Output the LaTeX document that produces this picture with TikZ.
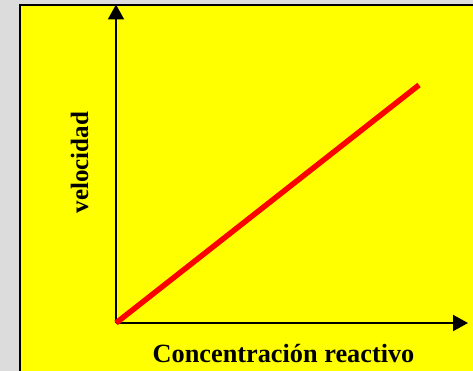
\documentclass[tikz,border=0pt]{standalone}
\usepackage{fontspec}
\setmainfont{Liberation Serif}
\usetikzlibrary{arrows.meta}
\definecolor{bggrey}{HTML}{DCDCDC}
\definecolor{panel}{HTML}{FFFF00}
\definecolor{redline}{HTML}{FF0000}
\tikzset{
  axis/.style={line width=2pt,-{Triangle[length=15pt,width=16pt]}},
  lbl/.style={inner sep=0pt,anchor=base,font=\fontsize{26.3}{30}\selectfont\bfseries},
  ylbl/.style={inner sep=0pt,anchor=base,font=\fontsize{25}{30}\selectfont\bfseries}
}
\begin{document}
\begin{tikzpicture}[x=1pt,y=-1pt]
\useasboundingbox (0,0) rectangle (473,371);
\fill[bggrey] (0,0) rectangle (473,371);
\fill[panel] (20,5) rectangle (475,373);
\draw[line width=2pt] (20,373) -- (20,5) -- (475,5);
\coordinate (O) at (116,323);
\coordinate (Ytip) at (116,4.5);
\coordinate (Xtip) at (468,323);
\coordinate (E) at (419,85);
\draw[axis] (O) -- (Ytip);
\draw[axis] (O) -- (Xtip);
\draw[redline,line width=5.5pt] (O) -- (E);
\node[ylbl,rotate=90] (ylab) at (88,162.5) {velocidad};
\node[lbl] (xlab) at (283.5,362) {Concentración reactivo};
\end{tikzpicture}
\end{document}
